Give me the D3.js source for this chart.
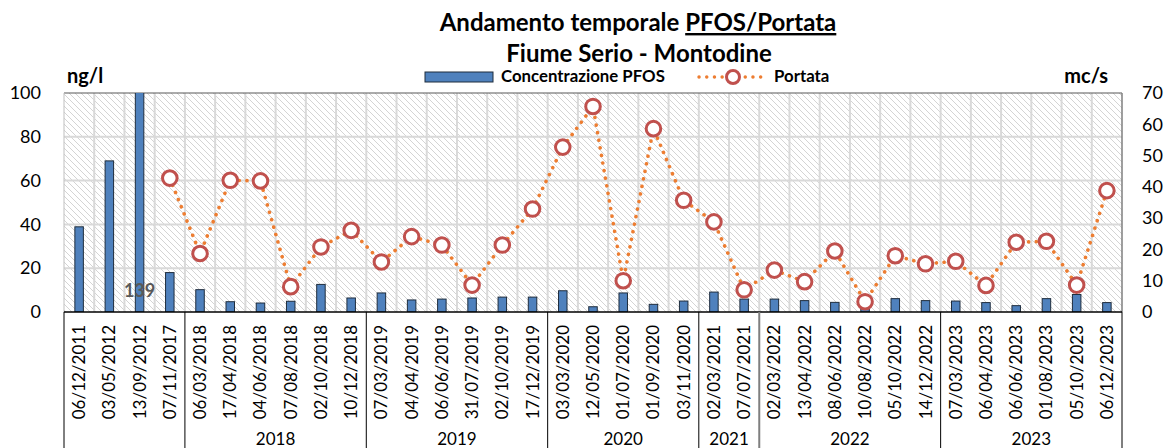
<html>
<head>
<script src="https://d3js.org/d3.v7.min.js"></script>
<style>
body { margin: 0; background: #fff; font-family: Lato, 'Liberation Sans', sans-serif; }
</style>
</head>
<body>
<div id="chart"></div>
<script>
// campionamenti
var dates = ["06/12/2011","03/05/2012","13/09/2012","07/11/2017",
  "06/03/2018","17/04/2018","04/06/2018","07/08/2018","02/10/2018","10/12/2018",
  "07/03/2019","04/04/2019","06/06/2019","31/07/2019","02/10/2019","17/12/2019",
  "03/03/2020","12/05/2020","01/07/2020","01/09/2020","03/11/2020",
  "02/03/2021","07/07/2021",
  "02/03/2022","13/04/2022","08/06/2022","10/08/2022","05/10/2022","14/12/2022",
  "07/03/2023","06/04/2023","06/06/2023","01/08/2023","05/10/2023","06/12/2023"];
// ng/l
var pfos = [38.9, 69, 139, 18,
  10.2, 4.7, 4.1, 4.9, 12.6, 6.4,
  8.7, 5.5, 5.9, 6.4, 6.8, 6.8,
  9.7, 2.4, 8.7, 3.5, 5.0,
  9.1, 5.9,
  5.9, 5.2, 4.4, 3, 6.1, 5.2,
  5.0, 4.3, 2.9, 6.1, 8.0, 4.3];
// mc/s
var portata = [null, null, null, 42.8,
  18.7, 42.1, 41.9, 8.1, 20.8, 26.1,
  16.0, 24.1, 21.4, 8.6, 21.4, 32.9,
  52.7, 65.7, 10.0, 58.6, 35.7,
  28.8, 7.1,
  13.4, 9.7, 19.5, 3.3, 18.0, 15.4,
  16.2, 8.5, 22.3, 22.6, 8.6, 38.8];
var yearLabels = ["", "2018", "2019", "2020", "2021", "2022", "2023"];
var yearCounts = [4, 6, 6, 5, 2, 6, 6];
var leftTicks = [0, 20, 40, 60, 80, 100];
var rightTicks = [0, 10, 20, 30, 40, 50, 60, 70];

var W = 1167, H = 448;
var L = 64, R = 1122, T = 93, B = 312;

var svg = d3.select("#chart").append("svg").attr("width", W).attr("height", H);

var defs = svg.append("defs");
var pat = defs.append("pattern").attr("id", "hatch")
  .attr("patternUnits", "userSpaceOnUse").attr("width", 6).attr("height", 6);
pat.append("rect").attr("width", 6).attr("height", 6).attr("fill", "#fff");
pat.append("path").attr("d", "M0,0 L6,6 M-1,5 L1,7 M5,-1 L7,1")
  .attr("stroke", "#d4d4d4").attr("stroke-width", 1);
defs.append("clipPath").attr("id", "clip").append("rect")
  .attr("x", L).attr("y", T).attr("width", R - L).attr("height", B - T);

var x = d3.scaleBand().domain(dates).range([L, R]).padding(0);
var y = d3.scaleLinear().domain([0, 100]).range([B, T]);
var y2 = d3.scaleLinear().domain([0, 70]).range([B, T]);

// sfondo tratteggiato
svg.append("rect").attr("x", L).attr("y", T).attr("width", R - L).attr("height", B - T)
  .attr("fill", "url(#hatch)");

// griglia
svg.append("g").selectAll("line").data(leftTicks.slice(1, -1)).enter().append("line")
  .attr("x1", L).attr("x2", R).attr("y1", d => y(d)).attr("y2", d => y(d))
  .attr("stroke", "#d9d9d9").attr("stroke-width", 2);
svg.append("g").selectAll("line").data(dates.slice(1)).enter().append("line")
  .attr("x1", d => x(d)).attr("x2", d => x(d)).attr("y1", T).attr("y2", B)
  .attr("stroke", "#d9d9d9").attr("stroke-width", 2);

// bordo
svg.append("line").attr("x1", L).attr("x2", R).attr("y1", T).attr("y2", T)
  .attr("stroke", "#595959").attr("stroke-width", 1.2);
svg.append("line").attr("x1", R).attr("x2", R).attr("y1", T).attr("y2", B)
  .attr("stroke", "#7f7f7f").attr("stroke-width", 1.5);
svg.append("line").attr("x1", L).attr("x2", L).attr("y1", T).attr("y2", B)
  .attr("stroke", "#bfbfbf").attr("stroke-width", 1);

// barre
var bw = 8.5;
svg.append("g").attr("clip-path", "url(#clip)").selectAll("rect").data(pfos).enter().append("rect")
  .attr("x", (d, i) => x(dates[i]) + x.bandwidth() / 2 - bw / 2)
  .attr("y", d => y(d)).attr("width", bw).attr("height", d => B - y(d))
  .attr("fill", "#4f81bd").attr("stroke", "#1f2d3d").attr("stroke-width", 1);

// etichetta 139 (valore fuori scala)
svg.append("text").attr("x", x(dates[2]) + x.bandwidth() / 2).attr("y", 297)
  .attr("text-anchor", "middle").attr("font-size", 18).attr("font-weight", "bold")
  .attr("fill", "#595959").text(pfos[2]);

// linea portata
var line = d3.line().defined(d => d != null)
  .x((d, i) => x(dates[i]) + x.bandwidth() / 2).y(d => y2(d));
svg.append("path").datum(portata).attr("d", line).attr("fill", "none")
  .attr("stroke", "#ed7d31").attr("stroke-width", 3.6)
  .attr("stroke-linecap", "round").attr("stroke-dasharray", "0.1,7.6");
svg.append("g").selectAll("circle").data(portata.map((v, i) => ({v: v, d: dates[i]})).filter(p => p.v != null))
  .enter().append("circle")
  .attr("cx", p => x(p.d) + x.bandwidth() / 2).attr("cy", p => y2(p.v)).attr("r", 7.3)
  .attr("fill", "#fff").attr("stroke", "#c0504d").attr("stroke-width", 3);

// asse x
svg.append("line").attr("x1", L).attr("x2", R).attr("y1", B).attr("y2", B)
  .attr("stroke", "#000").attr("stroke-width", 1.3);
svg.append("g").selectAll("text").data(dates).enter().append("text")
  .attr("transform", d => "translate(" + (x(d) + x.bandwidth() / 2 + 6) + ",325) rotate(-90)")
  .attr("text-anchor", "end").attr("font-size", 17).attr("fill", "#000").text(d => d);

var starts = [0];
yearCounts.forEach((c, i) => starts.push(starts[i] + c));
svg.append("g").selectAll("line").data(starts).enter().append("line")
  .attr("x1", i => i < dates.length ? x(dates[i]) : R).attr("x2", i => i < dates.length ? x(dates[i]) : R)
  .attr("y1", B).attr("y2", H)
  .attr("stroke", (i, k) => k == 5 ? "#7f7f7f" : "#000").attr("stroke-width", (i, k) => k == 5 ? 2 : 1);
svg.append("g").selectAll("text").data(yearLabels).enter().append("text")
  .attr("x", (d, k) => {
    var a = x(dates[starts[k]]);
    var b = starts[k + 1] < dates.length ? x(dates[starts[k + 1]]) : R;
    return (a + b) / 2;
  })
  .attr("y", 445).attr("text-anchor", "middle").attr("font-size", 17).text(d => d);

// assi y
var ax = svg.append("g").attr("transform", "translate(41,0)")
  .call(d3.axisLeft(y).tickValues(leftTicks).tickSize(0).tickPadding(0));
ax.select(".domain").remove();
ax.selectAll("text").attr("font-size", 18).attr("font-family", "Lato, sans-serif").attr("fill", "#000");
var ax2 = svg.append("g").attr("transform", "translate(1142,0)")
  .call(d3.axisRight(y2).tickValues(rightTicks).tickSize(0).tickPadding(0));
ax2.select(".domain").remove();
ax2.selectAll("text").attr("font-size", 18).attr("font-family", "Lato, sans-serif").attr("fill", "#000");

svg.append("text").attr("x", 67).attr("y", 83).attr("font-size", 20).attr("font-weight", "bold").text("ng/l");
svg.append("text").attr("x", 1108).attr("y", 83).attr("text-anchor", "end").attr("font-size", 20).attr("font-weight", "bold").text("mc/s");

// titolo
var t1 = svg.append("text").attr("x", 638).attr("y", 31).attr("text-anchor", "middle")
  .attr("font-size", 24).attr("font-weight", "bold");
t1.append("tspan").text("Andamento temporale ");
t1.append("tspan").attr("text-decoration", "underline").text("PFOS/Portata");
svg.append("text").attr("x", 639).attr("y", 62).attr("text-anchor", "middle")
  .attr("font-size", 24).attr("font-weight", "bold").text("Fiume Serio - Montodine");

// legenda
svg.append("rect").attr("x", 425).attr("y", 72).attr("width", 68).attr("height", 10)
  .attr("fill", "#4f81bd").attr("stroke", "#1f2d3d").attr("stroke-width", 1);
svg.append("text").attr("x", 501).attr("y", 82).attr("font-size", 16.8).attr("font-weight", "bold").text("Concentrazione PFOS");
svg.append("line").attr("x1", 699).attr("x2", 767).attr("y1", 77).attr("y2", 77)
  .attr("stroke", "#ed7d31").attr("stroke-width", 3.4).attr("stroke-linecap", "round")
  .attr("stroke-dasharray", "0.1,7.6");
svg.append("circle").attr("cx", 733).attr("cy", 77).attr("r", 6.5)
  .attr("fill", "#fff").attr("stroke", "#c0504d").attr("stroke-width", 3);
svg.append("text").attr("x", 774).attr("y", 82).attr("font-size", 16.8).attr("font-weight", "bold").text("Portata");
</script>
</body>
</html>
